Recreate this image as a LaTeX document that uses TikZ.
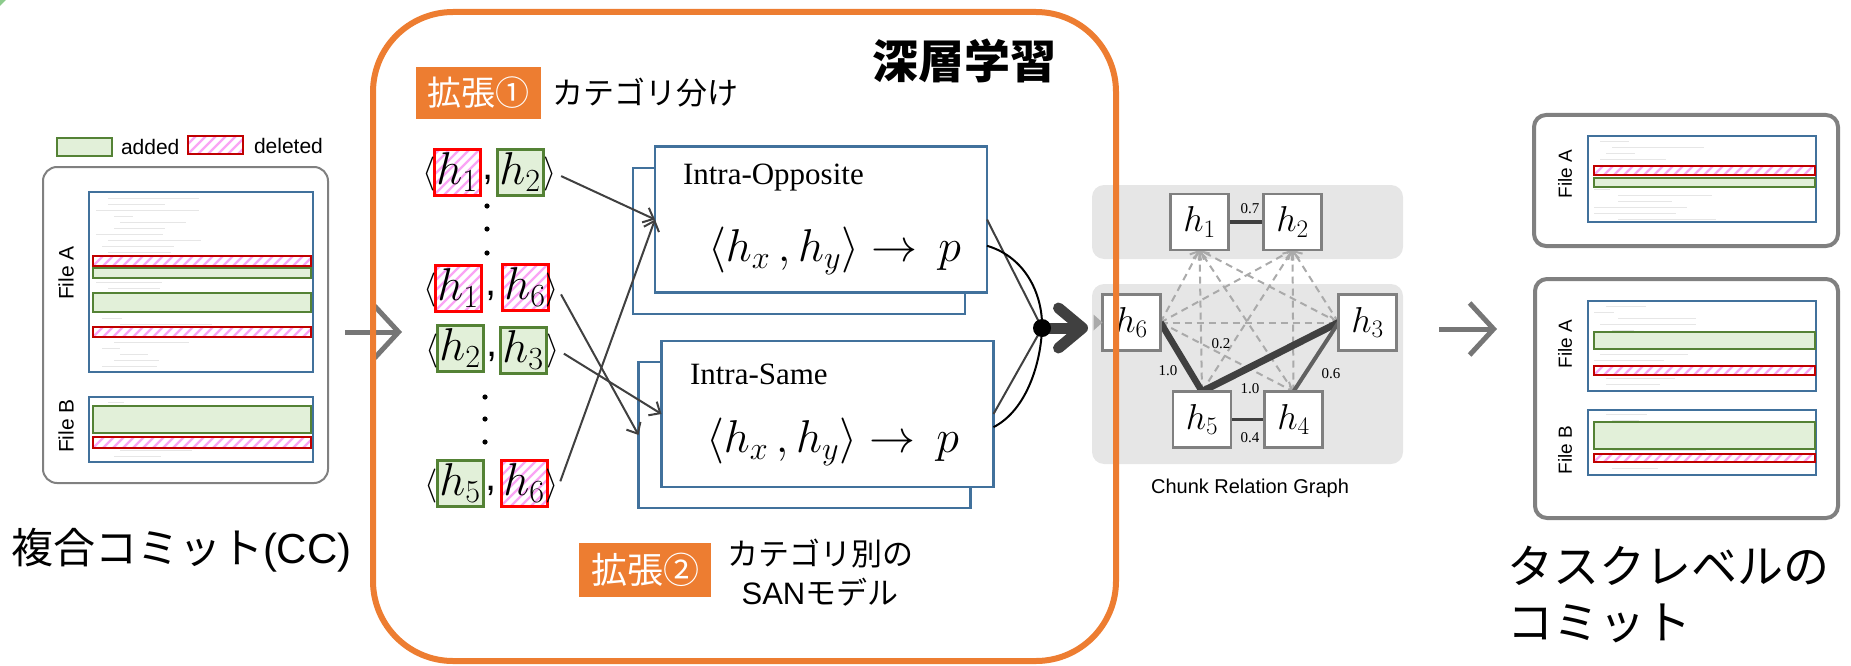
\documentclass[tikz,border=0pt]{standalone}
\usepackage{fix-cm}
\usepackage[no-math]{fontspec}
\setmainfont{Liberation Sans}
\newfontfamily\jp{Noto Sans CJK JP}
\newfontfamily\serifx{Liberation Serif}
\usetikzlibrary{arrows.meta,calc}

\definecolor{orng}{RGB}{237,125,49}
\definecolor{blu}{RGB}{65,113,156}
\definecolor{grn}{RGB}{84,130,53}
\definecolor{grnfill}{RGB}{226,240,217}
\definecolor{dred}{RGB}{192,0,0}
\definecolor{stripe}{RGB}{250,165,245}
\definecolor{frame}{RGB}{128,128,128}
\definecolor{arrowgray}{RGB}{118,118,118}
\definecolor{ink}{RGB}{64,64,64}
\definecolor{ink2}{RGB}{96,96,96}
\definecolor{panel}{RGB}{230,230,230}
\definecolor{dashgray}{RGB}{170,170,170}
\definecolor{codegray}{RGB}{230,230,230}

\pgfdeclarelayer{bg}
\pgfsetlayers{bg,main}

% faint lines standing for source code inside a file box
\newcommand\fakecode[4]{%
  \foreach \i in {0,...,#4}{%
    \pgfmathsetmacro\yy{#2+#3*\i}
    \pgfmathsetmacro\ind{6*random(0,4)}
    \pgfmathsetmacro\len{random(15,105)}
    \draw[codeline] (#1+\ind,\yy) -- ++(\len,0);
  }}

\begin{document}
\begin{tikzpicture}[x=1pt,y=-1pt,
  every node/.style={inner sep=0pt,outer sep=0pt},
  stripes/.style={path picture={\foreach \k in {-80,-70,...,330}{%
      \draw[stripe,line width=2.2pt] ([xshift=\k pt]path picture bounding box.south west) -- ++(80pt,80pt);}}},
  codeline/.style={codegray,line width=1pt},
  addhunk/.style={draw=grn,fill=grnfill,line width=2.5pt},
  delhunk/.style={draw=dred,fill=white,line width=2.5pt,stripes},
  filebox/.style={draw=blu,line width=2.5pt,fill=white},
  filelabel/.style={rotate=90,font=\fontsize{21}{21}\selectfont},
  pairbox/.style={minimum width=46pt,minimum height=46pt,line width=3pt,font=\fontsize{46}{46}\selectfont},
  pairdel/.style={pairbox,draw=red,fill=white,stripes},
  pairadd/.style={pairbox,draw=grn,fill=grnfill},
  brk/.style={font=\fontsize{34}{34}\selectfont},
  comma/.style={font=\fontsize{40}{40}\selectfont},
  modelbox/.style={draw=blu,fill=white,line width=2.5pt,minimum width=332pt,minimum height=146pt},
  modelname/.style={anchor=west,font=\serifx\fontsize{31}{31}\selectfont},
  formula/.style={anchor=west,font=\fontsize{46}{46}\selectfont},
  thinarrow/.style={ink,line width=2pt,shorten <=5pt,-{Straight Barb[length=9pt,width=16pt]}},
  bigchev/.style={arrowgray,line width=5pt,-{Straight Barb[length=24pt,width=52pt]}},
  tagbox/.style={fill=orng,text=white,minimum width=125pt,minimum height=52pt,font={\jp\fontsize{34}{34}\selectfont}},
  jptext/.style={font={\jp\fontsize{31}{31}\selectfont}},
  gnode/.style={draw=frame,fill=white,line width=2.5pt,minimum width=58pt,minimum height=56pt,font=\fontsize{36}{36}\selectfont},
  dashedge/.style={dashgray,line width=2pt,dash pattern=on 7pt off 5pt,-{Straight Barb[length=7pt,width=13pt]}},
  weight/.style={font=\serifx\fontsize{15}{15}\selectfont},
  outerbox/.style={draw=frame,rounded corners=14pt,fill=white},
]
\pgfmathsetseed{7}
\useasboundingbox (0,0) rectangle (1851,666);
\fill[green!55!black!45] (0,0) -- (6,0) -- (0,6) -- cycle;

% ---------------- composite commit ----------------
\path[addhunk] (57,138) rectangle (112,156);
\node[anchor=west,font=\fontsize{21}{21}\selectfont] (legadd) at (121,147) {added};
\path[delhunk] (188,136) rectangle (243,154);
\node[anchor=west,font=\fontsize{21}{21}\selectfont] (legdel) at (254,146) {deleted};

\draw[outerbox,line width=2pt] (43,167) rectangle (328,483);
\draw[filebox] (89,192) rectangle (313,372);
\draw[filebox] (89,397) rectangle (313,462);
\fakecode{96}{198}{6}{28}
\fakecode{96}{402}{6}{9}
\path[delhunk] (93,256) rectangle (311,266);
\path[addhunk] (93,268) rectangle (311,278);
\path[addhunk] (93,293) rectangle (311,312);
\path[delhunk] (93,327) rectangle (311,337);
\path[addhunk] (93,406) rectangle (311,433);
\path[delhunk] (93,437) rectangle (311,448);
\node[filelabel] (lfa) at (66,273) {File A};
\node[filelabel] (lfb) at (66,426) {File B};
\node[anchor=west,font=\fontsize{42}{42}\selectfont] (cccap) at (11,550) {{\jp 複合コミット}(CC)};

\coordinate (a1s) at (345,332);
\coordinate (a1e) at (402,332);
\draw[bigchev] (a1s) -- (a1e);

% ---------------- deep learning part ----------------
\node[font={\jp\bfseries\fontsize{46}{46}\selectfont}] (dl) at (964,61) {深層学習};
\node[tagbox] (ext1) at (478.5,93) {拡張①};
\node[jptext,anchor=west] (cat1) at (552,93) {カテゴリ分け};

% chunk pairs
\node[pairdel] (p1a) at (457,172) {$h_1$};
\node[pairadd] (p1b) at (520,172) {$h_2$};
\node[brk] (p1l) at (429,174) {$\langle$};
\node[brk] (p1r) at (550,174) {$\rangle$};
\node[comma] (p1c) at (488,180) {,};

\node[pairdel] (p2a) at (458,288) {$h_1$};
\node[pairdel] (p2b) at (525,287) {$h_6$};
\node[brk] (p2l) at (430,290) {$\langle$};
\node[brk] (p2r) at (552,290) {$\rangle$};
\node[comma] (p2c) at (491,296) {,};

\node[pairadd] (p3a) at (460,348) {$h_2$};
\node[pairadd] (p3b) at (523,350) {$h_3$};
\node[brk] (p3l) at (432,351) {$\langle$};
\node[brk] (p3r) at (553,351) {$\rangle$};
\node[comma] (p3c) at (492,357) {,};

\node[pairadd] (p4a) at (460,483) {$h_5$};
\node[pairdel] (p4b) at (524,483) {$h_6$};
\node[brk] (p4l) at (431,486) {$\langle$};
\node[brk] (p4r) at (552,486) {$\rangle$};
\node[comma] (p4c) at (491,491) {,};

\foreach \yy in {206,229,253} \fill (487,\yy) circle (2.6pt);
\foreach \yy in {397,419,442} \fill (485,\yy) circle (2.6pt);

% SAN models
\node[modelbox] (oppback) at (799,241) {};
\node[modelbox] (opp) at (821,219.5) {};
\node[modelname] (oppname) at (683,178) {Intra-Opposite};
\node[formula] (oppf) at (708,251) {$\langle h_x\,, h_y\rangle\rightarrow\hspace{8pt}p$};

\node[modelbox] (sameback) at (804.5,435) {};
\node[modelbox] (same) at (827.5,414) {};
\node[modelname] (samename) at (690,374) {Intra-Same};
\node[formula] (samef) at (706,442) {$\langle h_x\,, h_y\rangle\rightarrow\hspace{8pt}p$};

\draw[thinarrow] (p1r.east) -- (opp.west);
\draw[thinarrow] (p4r.east) -- (opp.west);
\draw[thinarrow] (p2r.east) -- (sameback.west);
\draw[thinarrow] (p3r.east) -- (same.west);

\node[tagbox,minimum width=132pt,minimum height=54pt,font={\jp\fontsize{36}{36}\selectfont}] (ext2) at (645,570) {拡張②};
\node[align=center,font={\jp\fontsize{31}{39}\selectfont}] (cat2) at (820,573) {カテゴリ別の\\{\rmfamily SAN}モデル};

% merging the two predictions
\coordinate (joinpt) at (1042,328);
\draw[ink,line width=2pt] (opp.east) -- (joinpt);
\draw[ink,line width=2pt] (same.east) -- (joinpt);
\draw[black,line width=2pt] ($(opp.north east)!0.68!(opp.south east)$)
  .. controls (1028,258) and (1043,298) .. (joinpt)
  .. controls (1041,362) and (1027,410) .. ($(same.north east)!0.59!(same.south east)$);
\coordinate (thickend) at (1088,328);
\draw[ink,line width=11pt,line cap=round,-{Straight Barb[length=24pt,width=40pt,round]}] (joinpt) -- (thickend);
\node[circle,fill=black,minimum size=18pt] (join) at (joinpt) {};

% ---------------- chunk relation graph ----------------
\begin{pgfonlayer}{bg}
\fill[panel,rounded corners=12pt] (1092,185) rectangle (1403,259);
\fill[panel,rounded corners=12pt] (1092,284) rectangle (1403,464);
\end{pgfonlayer}

\node[gnode] (g1) at (1199.5,222) {$h_1$};
\node[gnode] (g2) at (1292.5,222) {$h_2$};
\node[gnode] (g6) at (1131.5,322.5) {$h_6$};
\node[gnode] (g3) at (1367.5,322.5) {$h_3$};
\node[gnode] (g5) at (1202,419.5) {$h_5$};
\node[gnode] (g4) at (1293.5,419.5) {$h_4$};

\begin{pgfonlayer}{bg}
\draw[dashedge] (g6.east) -- (g1.south);
\draw[dashedge] (g6.east) -- (g2.south);
\draw[dashedge] (g5.north) -- (g1.south);
\draw[dashedge] (g5.north) -- (g2.south);
\draw[dashedge] (g3.west) -- (g1.south);
\draw[dashedge] (g3.west) -- (g2.south);
\draw[dashedge] (g4.north) -- (g1.south);
\draw[dashedge] (g4.north) -- (g2.south);
\draw[dashedge] (g6.east) -- (g3.west);
\draw[dashedge] (g6.east) -- (g4.north);
\draw[ink,line width=4pt] (g1.east) -- (g2.west);
\draw[ink,line width=6.5pt] (g6.east) -- (g5.north);
\draw[ink,line width=7pt] (g5.north) -- (g3.west);
\draw[ink2,line width=4pt] (g3.west) -- (g4.north);
\draw[ink,line width=3.5pt] (g5.east) -- (g4.west);
\end{pgfonlayer}
\fill[dashgray] ($(g6.west)+(-9,-8)$) -- (g6.west) -- ($(g6.west)+(-9,8)$) -- cycle;

\node[weight] (w12) at (1250,209) {0.7};
\node[weight] (w65) at (1168,371) {1.0};
\node[weight] (w53) at (1250,389) {1.0};
\node[weight] (w34) at (1331,374) {0.6};
\node[weight] (w54) at (1250,438) {0.4};
\node[weight] (w64) at (1221,344) {0.2};
\node[font=\fontsize{20}{20}\selectfont] (crg) at (1250,488) {Chunk Relation Graph};

\coordinate (a3s) at (1439,329);
\coordinate (a3e) at (1497,329);
\draw[bigchev] (a3s) -- (a3e);

% ---------------- task-level commits ----------------
\draw[outerbox,line width=4pt,rounded corners=12pt] (1534,115) rectangle (1838,246);
\draw[filebox,line width=2pt] (1588,136) rectangle (1816,222);
\fakecode{1594}{141}{6}{13}
\path[delhunk,line width=2.2pt] (1594,166) rectangle (1815,175);
\path[addhunk,line width=2.2pt] (1594,178) rectangle (1815,187);
\node[filelabel,font=\fontsize{19}{19}\selectfont] (rfa1) at (1565,174) {File A};

\draw[outerbox,line width=4pt,rounded corners=12pt] (1535,279) rectangle (1838,518);
\draw[filebox,line width=2pt] (1588,301) rectangle (1816,391);
\fakecode{1594}{306}{6}{13}
\path[addhunk,line width=2.2pt] (1594,332) rectangle (1815,349);
\path[delhunk,line width=2.2pt] (1594,366) rectangle (1815,375);
\node[filelabel,font=\fontsize{19}{19}\selectfont] (rfa2) at (1565,344) {File A};
\draw[filebox,line width=2pt] (1588,410) rectangle (1816,475);
\fakecode{1594}{414}{6}{9}
\path[addhunk,line width=2.2pt] (1594,422) rectangle (1815,449);
\path[delhunk,line width=2.2pt] (1594,454) rectangle (1815,462);
\node[filelabel,font=\fontsize{19}{19}\selectfont] (rfb2) at (1565,450) {File B};

\node[anchor=west,align=left,font={\jp\fontsize{46}{56}\selectfont}] (tlcap) at (1507,594) {タスクレベルの\\コミット};

% deep learning frame on top
\draw[orng,line width=6pt,rounded corners=80pt] (373,12) rectangle (1116,661);
\end{tikzpicture}
\end{document}
